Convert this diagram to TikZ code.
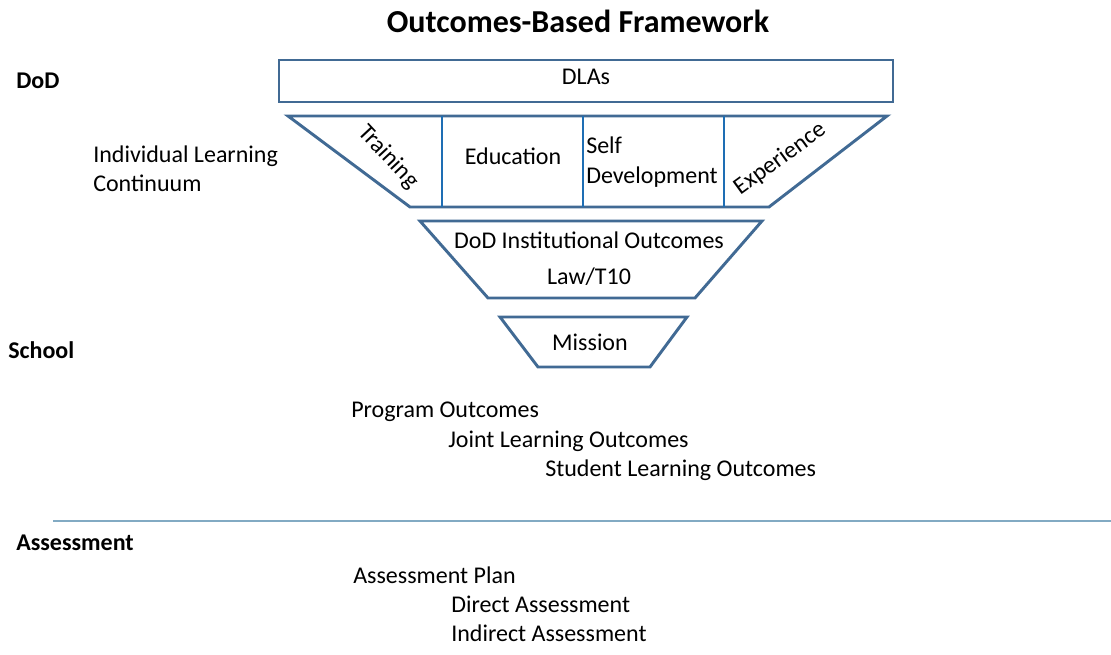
\documentclass[tikz,border=0pt]{standalone}
\usepackage{fontspec}
\setmainfont{Carlito}
\usepackage{tikz}
\usetikzlibrary{positioning}
\usepackage{xcolor}
\definecolor{steelline}{RGB}{65,106,148}
\definecolor{divblue}{RGB}{30,110,180}
\definecolor{rulecol}{RGB}{130,170,195}
\tikzset{
  outline/.style={draw=steelline,line width=2.2pt,line join=miter},
  divline/.style={draw=divblue,line width=1.6pt},
  sepline/.style={draw=rulecol,line width=0.8pt},
  txt/.style={font=\fontsize{18}{22}\selectfont,inner sep=0pt,text=black},
  lefttxt/.style={txt,anchor=west},
  sidelbl/.style={font=\fontsize{18}{22}\selectfont\bfseries,inner sep=0pt,anchor=west},
  titlelbl/.style={font=\fontsize{24}{28}\selectfont\bfseries,inner sep=0pt}
}
\begin{document}
\begin{tikzpicture}[x=0.75pt,y=-0.75pt]
  \useasboundingbox (0,0) rectangle (1111,655);
  \node[titlelbl] (title) at (578,21) {Outcomes-Based Framework};
  % side labels
  \node[sidelbl] (dod) at (16,81) {DoD};
  \node[sidelbl] (school) at (8,350) {School};
  \node[sidelbl] (assess) at (16,543) {Assessment};
  \node[lefttxt,align=left] (ilc) at (93,169) {Individual Learning\\Continuum};
  % DLAs box
  \draw[outline] (279,60) rectangle (893,102);
  \node[txt] (dlas) at (586,77) {DLAs};
  % learning continuum funnel
  \draw[outline] (288,116) -- (887,116) -- (769,207) -- (410,207) -- cycle;
  \foreach \xx in {442,583,724}
    \draw[divline] (\xx,116) -- (\xx,207);
  \node[txt,rotate=-47] (training) at (388,157) {Training};
  \node[txt] (education) at (513,156) {Education};
  \node[lefttxt,align=left] (selfdev) at (586,162) {Self\\Development};
  \node[txt,rotate=36] (experience) at (780,159) {Experience};
  % institutional outcomes
  \draw[outline] (420,221) -- (762,221) -- (695,298) -- (488,298) -- cycle;
  \node[txt] (inst) at (589,240) {DoD Institutional Outcomes};
  \node[txt] (law) at (589,277) {Law/T10};
  % mission
  \draw[outline] (500,317) -- (687,317) -- (650,367) -- (538,367) -- cycle;
  \node[txt] (mission) at (590,342) {Mission};
  % school outcomes
  \node[lefttxt] (prog) at (351,412) {Program Outcomes};
  \node[lefttxt] (joint) at (448,441) {Joint Learning Outcomes};
  \node[lefttxt] (slo) at (545,470) {Student Learning Outcomes};
  % assessment
  \draw[sepline] (53,521) -- (1111,521);
  \node[lefttxt] (plan) at (353,575) {Assessment Plan};
  \node[lefttxt] (direct) at (451,604) {Direct Assessment};
  \node[lefttxt] (indirect) at (451,633) {Indirect Assessment};
\end{tikzpicture}
\end{document}
